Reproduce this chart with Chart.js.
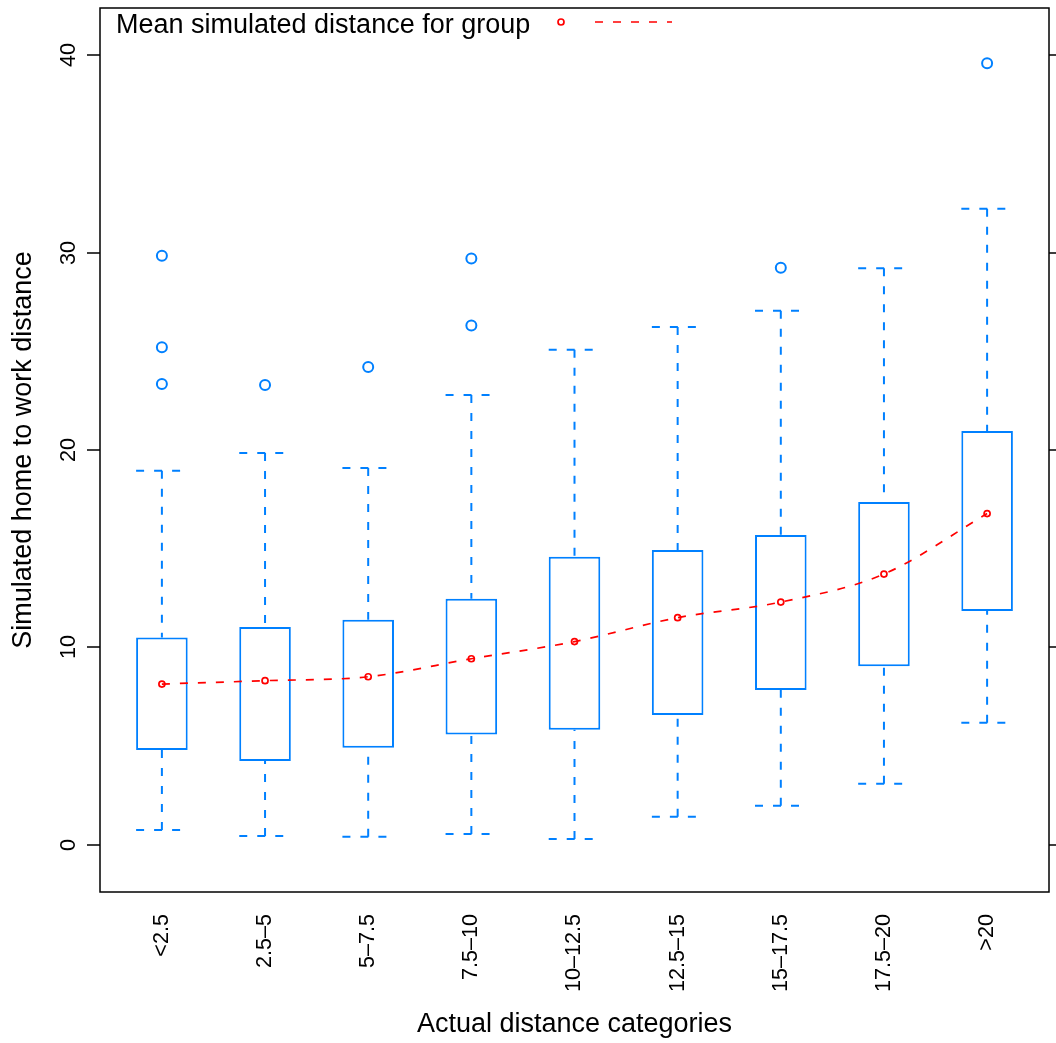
<!DOCTYPE html>
<html>
<head>
<meta charset="utf-8">
<script src="https://cdn.jsdelivr.net/npm/chart.js@4/dist/chart.umd.min.js"></script>
<style>
  html, body { margin: 0; padding: 0; background: #fff; }
  #wrap { width: 1056px; height: 1043px; position: relative; }
</style>
</head>
<body>
<div id="wrap"><canvas id="myChart"></canvas></div>
<script>
// distance groups (km)
const categories = ['<2.5', '2.5–5', '5–7.5', '7.5–10', '10–12.5', '12.5–15', '15–17.5', '17.5–20', '>20'];

// box plot stats per group
const lowWhisker    = [0.76, 0.46, 0.42, 0.56, 0.30, 1.43, 1.99, 3.10, 6.19];
const lowerQuartile = [4.81, 4.25, 4.93, 5.60, 5.84, 6.58, 7.85, 9.05, 11.85];
const upperQuartile = [10.50, 11.04, 11.41, 12.47, 14.60, 14.94, 15.70, 17.37, 20.96];
const highWhisker   = [18.95, 19.85, 19.09, 22.78, 25.08, 26.23, 27.05, 29.20, 32.22];
const groupMeans    = [8.15, 8.32, 8.52, 9.43, 10.30, 11.51, 12.30, 13.72, 16.78];

// points beyond the whiskers
const outlierGroup = [1, 1, 1, 2, 3, 4, 4, 7, 9];
const outlierValue = [29.84, 25.20, 23.34, 23.29, 24.20, 29.70, 26.30, 29.23, 39.58];

const yTicks = [0, 10, 20, 30, 40];

const blue = '#0080ff';
const FONT = '"Liberation Sans", Arial, Helvetica, sans-serif';
const dash = [8, 10];

Chart.defaults.font.family = FONT;
Chart.defaults.color = '#000';

// whisker segments + caps, broken up with nulls (each starts at the cap end)
const whiskers = [];
categories.forEach((c, i) => {
    const x = i + 1;
    whiskers.push({x: x, y: lowWhisker[i]}, {x: x, y: lowerQuartile[i]}, {x: x, y: null});
    whiskers.push({x: x, y: highWhisker[i]}, {x: x, y: upperQuartile[i]}, {x: x, y: null});
    whiskers.push({x: x - 0.25, y: lowWhisker[i]}, {x: x + 0.25, y: lowWhisker[i]}, {x: x, y: null});
    whiskers.push({x: x - 0.25, y: highWhisker[i]}, {x: x + 0.25, y: highWhisker[i]}, {x: x, y: null});
});

const boxes = categories.map((c, i) => ({x: i + 1, y: [lowerQuartile[i], upperQuartile[i]]}));
const outliers = outlierGroup.map((g, i) => ({x: g, y: outlierValue[i]}));
const means = groupMeans.map((m, i) => ({x: i + 1, y: m}));

// frame, right-hand ticks, rotated y labels and the key at the top
const frame = {
    id: 'frame',
    afterDraw(chart) {
        const {ctx, chartArea: a, scales: {y}} = chart;
        ctx.save();
        ctx.strokeStyle = '#000';
        ctx.lineWidth = 1.5;
        ctx.strokeRect(a.left, a.top, a.right - a.left, a.bottom - a.top);
        y.ticks.forEach(t => {
            const py = Math.round(y.getPixelForValue(t.value));
            ctx.beginPath();
            ctx.moveTo(a.left - 13, py); ctx.lineTo(a.left, py);
            ctx.moveTo(a.right, py); ctx.lineTo(a.right + 13, py);
            ctx.stroke();
            ctx.save();
            ctx.translate(75, py);
            ctx.rotate(-Math.PI / 2);
            ctx.font = '21.6px ' + FONT;
            ctx.fillStyle = '#000';
            ctx.textAlign = 'center';
            ctx.textBaseline = 'alphabetic';
            ctx.fillText(String(t.value), 0, 0);
            ctx.restore();
        });

        // key
        ctx.font = '27px ' + FONT;
        ctx.fillStyle = '#000';
        ctx.textAlign = 'left';
        ctx.textBaseline = 'alphabetic';
        ctx.fillText('Mean simulated distance for group', 116, 33);
        ctx.strokeStyle = 'red';
        ctx.lineWidth = 1.7;
        ctx.beginPath();
        ctx.arc(561, 22, 3, 0, Math.PI * 2);
        ctx.stroke();
        ctx.setLineDash(dash);
        ctx.beginPath();
        ctx.moveTo(595, 22); ctx.lineTo(672, 22);
        ctx.stroke();
        ctx.restore();
    }
};

const ctx = document.getElementById('myChart').getContext('2d');
const myChart = new Chart(ctx, {
    type: 'bar',
    data: {
        datasets: [{
            type: 'line',
            label: 'whiskers',
            data: whiskers,
            borderColor: blue,
            borderWidth: 2,
            borderDash: dash,
            borderCapStyle: 'butt',
            pointRadius: 0,
            spanGaps: false,
            tension: 0,
            order: 4
        }, {
            label: 'boxes',
            data: boxes,
            backgroundColor: '#fff',
            borderColor: blue,
            borderWidth: 2,
            borderSkipped: false,
            categoryPercentage: 1,
            barPercentage: 0.5,
            order: 3
        }, {
            type: 'line',
            label: 'outliers',
            data: outliers,
            showLine: false,
            pointStyle: 'circle',
            pointRadius: 5,
            pointBorderWidth: 2,
            pointBorderColor: blue,
            pointBackgroundColor: 'rgba(0,0,0,0)',
            order: 2
        }, {
            type: 'line',
            label: 'Mean simulated distance for group',
            data: means,
            borderColor: 'red',
            borderWidth: 1.7,
            borderDash: dash,
            cubicInterpolationMode: 'monotone',
            pointRadius: 3,
            pointBorderWidth: 1.7,
            pointBorderColor: 'red',
            pointBackgroundColor: 'rgba(0,0,0,0)',
            order: 1
        }]
    },
    options: {
        responsive: true,
        maintainAspectRatio: false,
        animation: false,
        events: [],
        layout: { padding: { top: 8, right: 5, left: 0, bottom: 0 } },
        plugins: {
            legend: { display: false },
            tooltip: { enabled: false }
        },
        scales: {
            x: {
                type: 'linear',
                min: 0.4,
                max: 9.6,
                offset: false,
                afterBuildTicks: scale => { scale.ticks = categories.map((c, i) => ({value: i + 1})); },
                afterFit: scale => { scale.height = 151; },
                grid: { display: false },
                border: { display: false },
                ticks: {
                    autoSkip: false,
                    minRotation: 90,
                    maxRotation: 90,
                    padding: 14,
                    font: { size: 21.6 },
                    callback: v => categories[v - 1]
                },
                title: {
                    display: true,
                    text: 'Actual distance categories',
                    font: { size: 27 },
                    padding: { top: 0, bottom: 2 }
                }
            },
            y: {
                min: -2.38,
                max: 42.38,
                afterBuildTicks: scale => { scale.ticks = yTicks.map(v => ({value: v})); },
                afterFit: scale => { scale.width = 100; },
                grid: { display: false },
                border: { display: false },
                ticks: { display: false },
                title: {
                    display: true,
                    text: 'Simulated home to work distance',
                    font: { size: 27 },
                    padding: { top: 7, bottom: 0 }
                }
            }
        }
    },
    plugins: [frame]
});
</script>
</body>
</html>
